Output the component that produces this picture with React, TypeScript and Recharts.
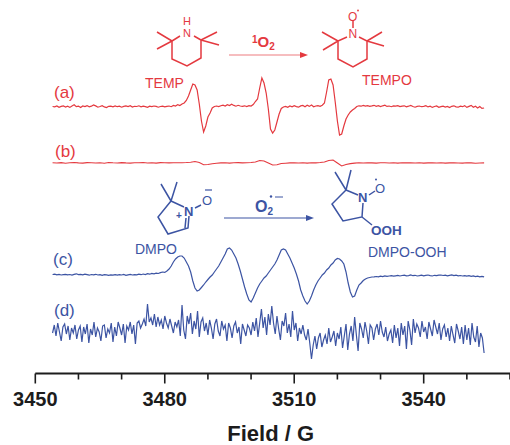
import React from "react";
import { LineChart, Line, XAxis, YAxis } from "recharts";

const RED = "#e4393f";
const BLUE = "#3c54a3";
const INK = "#1c1c1c";
const SANS = "'Liberation Sans', Arial, sans-serif";

const fieldStart = 3454;
const fieldTicks = [3450, 3460, 3470, 3480, 3490, 3500, 3510, 3520, 3530, 3540, 3550, 3560];
const labelledTicks = [3450, 3480, 3510, 3540];

const spectrumA = [
  0.5,0.2,1,-0.3,0.6,1.2,0,0.8,-0.4,1.1,
  2.2,0.3,0.9,-0.5,1,0.4,1.4,0.2,0.8,2,
  1.1,-0.2,0.5,1.3,0.1,-0.6,0.7,0.9,0.2,1,
  0.3,0.8,-0.2,0.6,1.1,0.4,1.3,-0.1,0.7,0.5,
  1.2,0.1,0.9,0.3,-0.3,0.8,0.4,1,0.6,-0.2,
  0.5,0.8,0.1,0.6,1,0.3,1.6,0.9,2.4,1.5,
  3,4,6.5,11,17,23,22,17,3,-14,
  -25,-19,-10,-6,-1,0.5,1,0.4,1.3,1.8,
  1,2.3,1.5,2.8,1.6,0.8,1.7,1,0.6,1.2,
  0.5,1.4,0.9,2.5,5.5,8,19,29,24,14,
  -2,-22,-26,-23,-15,-7,-1.5,0,0.6,-0.3,
  1,0.2,1.3,0.4,-0.2,1.1,1.5,0.3,1.7,0.6,
  1.9,0.2,1,1.4,0.7,1.8,4,15,27,28,
  22,5,-14,-28,-27,-19,-12,-8,-5,-3,
  -1.5,0.5,1.2,0.8,1.6,0.9,1.4,0.6,1.1,1.7,
  0.7,1.3,0.5,1.2,1.8,0.6,1,0.3,1.1,0.8,
  1.4,0.4,0.9,1.2,0.2,0.8,1.5,0.5,-0.2,0.6,
  1,0.3,0.7,1.3,0.1,0.8,-0.4,0.5,1.1,-0.3,
  0.4,0.9,0,0.6,-0.5,0.7,1.2,0.1,-0.2,0.8,
  0.3,1.4,-0.4,0.6,1.6,-0.3,0.7,-1,0.5,-1.4,
  -1,
];

const spectrumB = [
  0.2,0,0.4,-0.2,0.3,0.5,0.1,-0.1,0.4,0.2,
  0,0.3,-0.2,0.5,0.2,0,0.4,0.1,-0.1,0.3,
  0.2,0.5,0,0.3,-0.1,0.4,0.2,0.1,0.3,0.2,
  0.3,0.5,0.8,1.5,0.5,-1.8,-1.5,-0.8,-0.3,0.1,
  0.3,-0.1,0.2,0.4,0.1,0.3,0.5,1,2.5,2,
  0,-2,-1.8,-0.5,-0.2,0.1,0.3,0,0.2,-0.1,
  0.3,0.1,0.5,1,2.5,3,0,-3,-1.5,-0.6,
  -0.1,0.2,0,0.3,0.1,-0.1,0.2,0.3,0,0.2,
  -0.1,0.2,0.1,0.3,0,0.2,-0.1,0.1,0.3,0,
  0.2,-0.1,0.1,0.2,0,-0.1,0.2,0.1,-0.2,0,
  0.1,
];

const spectrumC = [
  -0.5,-0.2,-0.8,-0.4,-1,-0.6,-0.3,-0.9,-0.5,-1.1,
  -0.4,0.2,-0.6,-0.3,-0.9,-0.2,-0.7,-1.2,-0.5,-0.8,
  -0.3,-1,-0.6,-1.3,-0.7,-0.9,-1.4,-0.8,-1.1,-0.6,
  -1.2,-0.7,-1,-0.5,-1.3,-0.8,-0.4,-1,-0.6,-0.9,
  -0.2,-0.7,0,-0.5,0.3,-0.2,0.6,0.2,0.9,0.5,
  1.4,2,1.6,3,5,8,12,15,17,18,
  18,16,12,8,2,-7,-14,-17,-16,-13.5,
  -11,-8,-5.5,-3,-1,2,5,8,12,16,
  20,25,26,24,20,16,10,3,-5,-13,
  -20,-26,-28,-24,-19,-14,-10,-7,-4,-2,
  1,4,7,10,14,19,24,25,24,20,
  16,11,6,0,-7,-16,-22,-27,-30,-27,
  -22,-16,-11,-7,-4,-1,1,4,6,9,
  11,14,15.5,15,13,10,2,-9,-18,-23,
  -22,-16,-11,-9,-6.5,-5,-4,-3.5,-3,-2.8,
  -2.5,-2.9,-2.2,-2.6,-1.9,-2.4,-2,-1.6,-2.2,-1.8,
  -1.4,-2,-1.5,-1.2,-1.9,-1.6,-1,-1.7,-1.3,-2,
  -1.6,-1.1,-1.8,-1.4,-1,-1.6,-2,-1.3,-1.7,-1.2,
  -1,-1.5,-1.1,-1.8,-1.3,-0.9,-1.6,-1.2,-1.9,-1.5,
  -2,-1.6,-2.2,-1.7,-2.4,-1.9,-2.6,-2.1,-2.8,-2.3,
  -2.8,
];

const spectrumD = [
  -2,6,-5,8,-1,-10,4,7,-3,5,
  -9,3,-2,6,-8,1,5,-11,4,-3,
  7,-12,2,-4,9,-6,3,-1,-10,5,
  6,-7,2,-2,8,-11,4,-5,9,3,
  -4,7,-12,5,1,9,-3,6,-13,8,
  10,3,7,12,5,27,9,13,6,17,
  4,14,6,11,2,15,8,3,12,5,
  -2,9,4,11,-5,26,1,-8,15,7,
  18,-3,10,2,20,-6,9,13,0,8,
  -4,11,3,-8,7,12,0,-5,10,2,
  6,-10,8,3,-7,5,9,-2,4,-13,
  7,1,-5,6,3,-4,9,0,13,-6,
  8,22,3,14,-4,17,6,25,8,-3,
  15,2,-9,10,5,18,-2,7,-6,20,
  1,8,-10,3,-3,6,-4,-9,2,-12,
  -28,-14,-5,-18,-7,-2,-16,-9,-4,-13,
  3,-11,-6,0,-15,-2,-8,4,-17,-5,
  7,-19,-3,5,-10,14,-4,-20,8,2,
  -7,9,0,-13,6,3,-9,2,7,-4,
  10,-1,-6,4,-10,-3,1,-12,6,-7,
  3,-15,8,-4,5,-18,10,1,-14,12,
  -2,7,3,-6,10,-1,4,-8,9,2,
  -5,11,4,-3,8,-9,2,6,-6,3,
  -10,5,-4,-12,7,0,-8,4,-13,6,
  -9,3,-14,8,-6,-11,5,-16,-2,-7,
  -22,
];

const table = (values: number[], step: number, offset: number) =>
  values.map((v, i) => ({ field: fieldStart + i * step, signal: offset + v }));

const dataA = table(spectrumA, 0.5, 266.5);
const dataB = table(spectrumB, 1, 210.5);
const dataC = table(spectrumC, 0.5, 99.5);
const dataD = table(spectrumD, 0.4, 42.5);

const FieldTick = (props: any) => {
  const { x, y, payload } = props;
  const labelled = labelledTicks.includes(payload.value);
  return (
    <g>
      <line x1={x} x2={x} y1={y} y2={y + (labelled ? 10 : 6)} stroke={INK} strokeWidth={1.6} />
      {labelled && (
        <text x={x} y={y + 32} textAnchor="middle" fontFamily={SANS} fontWeight={700} fontSize={20} fill={INK}>
          {payload.value}
        </text>
      )}
    </g>
  );
};

const Bonds = ({ color, paths }: { color: string; paths: string[] }) => (
  <g fill="none" stroke={color} strokeWidth={1.5}>
    {paths.map((d) => (
      <path key={d} d={d} />
    ))}
  </g>
);

const Label = ({ x, y, text, color, size = 14, weight = 400 }: any) => (
  <text x={x} y={y} fill={color} fontFamily={SANS} fontSize={size} fontWeight={weight}>
    {text}
  </text>
);

const Annotations = () => (
  <svg width={510} height={445} style={{ position: "absolute", left: 0, top: 0, pointerEvents: "none" }}>
    {/* TEMP */}
    <Bonds color={RED} paths={[
      "M180 36L172 41V59L187 66L201 58V40L194 36",
      "M172 41L157 32M172 41L157 49",
      "M201 40L217 32M201 40L219 45",
    ]} />
    <Label x={183} y={24.5} text="H" color={RED} size={11} />
    <Label x={183} y={37} text="N" color={RED} size={11} />
    {/* 1O2 arrow */}
    <line x1={229} y1={55} x2={302} y2={55} stroke="#ee7c80" strokeWidth={1.2} />
    <path d="M300 52L308 55L300 58Z" fill={RED} />
    <text x={252} y={47} fill={RED} fontFamily={SANS} fontWeight={700} fontSize={15}>
      <tspan fontSize={10} dy={-4}>1</tspan>
      <tspan dy={4}>O</tspan>
      <tspan fontSize={10} dy={3}>2</tspan>
    </text>
    {/* TEMPO */}
    <Bonds color={RED} paths={[
      "M347 37L338 41V59L353 67L367 59V41L359 37",
      "M338 41L322 32M338 41L323 50",
      "M367 41L382 32M367 41L384 46",
      "M353 21V28",
    ]} />
    <Label x={348} y={21} text="O" color={RED} size={12} />
    <Label x={348.5} y={38} text="N" color={RED} size={12} />
    <circle cx={358} cy={10.5} r={0.9} fill={RED} />
    <Label x={145} y={88} text="TEMP" color={RED} />
    <Label x={362} y={85} text="TEMPO" color={RED} />
    <Label x={54} y={97.5} text="(a)" color={RED} size={17} />
    <Label x={55} y={156.5} text="(b)" color={RED} size={17} />

    {/* DMPO */}
    <Bonds color={BLUE} paths={[
      "M171 201L161 184M171 201L177 182",
      "M171 201L158 217L168 234L188 228L189 216",
      "M171 201L184 207M185 228L186 218",
      "M195 208L201 205",
    ]} />
    <Label x={184} y={216} text="N" color={BLUE} size={13} weight={700} />
    <Label x={176} y={219} text="+" color={BLUE} size={10} weight={700} />
    <Label x={202} y={205} text="O" color={BLUE} size={13} />
    <line x1={205} y1={190} x2={212} y2={190} stroke={BLUE} strokeWidth={1.2} />
    {/* O2 arrow */}
    <line x1={224} y1={218} x2={309} y2={218} stroke={BLUE} strokeWidth={1.2} />
    <path d="M306 215L314 218L306 221Z" fill={BLUE} />
    <text x={255} y={212} fill={BLUE} fontFamily={SANS} fontWeight={700} fontSize={16}>
      <tspan>O</tspan>
      <tspan fontSize={10} dy={3}>2</tspan>
    </text>
    <circle cx={271} cy={196.5} r={1.2} fill={BLUE} />
    <line x1={275} y1={197} x2={283} y2={197} stroke={BLUE} strokeWidth={1} />
    {/* DMPO-OOH */}
    <Bonds color={BLUE} paths={[
      "M346 190L335 172M346 190L351 170",
      "M346 190L332 204L343 221L362 217L363 203",
      "M346 190L358 195",
      "M362 217L372 225",
      "M369 195L375 191",
    ]} />
    <Label x={358} y={202} text="N" color={BLUE} size={13} weight={700} />
    <Label x={375} y={193} text="O" color={BLUE} size={13} />
    <circle cx={376} cy={179.5} r={1} fill={BLUE} />
    <Label x={371} y={235} text="OOH" color={BLUE} size={13.5} weight={700} />
    <Label x={135} y={254} text="DMPO" color={BLUE} />
    <Label x={368} y={257} text="DMPO-OOH" color={BLUE} />
    <Label x={53} y={265} text="(c)" color={BLUE} size={17} />
    <Label x={54} y={316} text="(d)" color={BLUE} size={17} />
  </svg>
);

export default function App() {
  return (
    <div style={{ position: "absolute", left: 0, top: 0, width: 510, height: 445, background: "#fff", overflow: "hidden" }}>
      <LineChart width={510} height={445} margin={{ top: 0, right: 0, bottom: 0, left: 35.3 }}>
        <XAxis
          dataKey="field"
          type="number"
          domain={[3450, 3560]}
          ticks={fieldTicks}
          interval={0}
          height={71.5}
          tick={<FieldTick />}
          tickSize={0}
          tickMargin={0}
          tickLine={false}
          axisLine={{ stroke: INK, strokeWidth: 1.8 }}
          allowDataOverflow
          label={{
            value: "Field / G",
            position: "insideBottom",
            offset: 4,
            dx: -2,
            style: { fontFamily: SANS, fontWeight: 700, fontSize: 22, fill: INK },
          }}
        />
        <YAxis hide type="number" domain={[0, 373.5]} />
        <Line data={dataA} dataKey="signal" stroke={RED} strokeWidth={1.2} dot={false} isAnimationActive={false} />
        <Line data={dataB} dataKey="signal" stroke={RED} strokeWidth={1.1} dot={false} isAnimationActive={false} />
        <Line data={dataC} dataKey="signal" stroke={BLUE} strokeWidth={1.2} dot={false} isAnimationActive={false} />
        <Line data={dataD} dataKey="signal" stroke={BLUE} strokeWidth={1.2} dot={false} isAnimationActive={false} />
      </LineChart>
      <Annotations />
    </div>
  );
}
